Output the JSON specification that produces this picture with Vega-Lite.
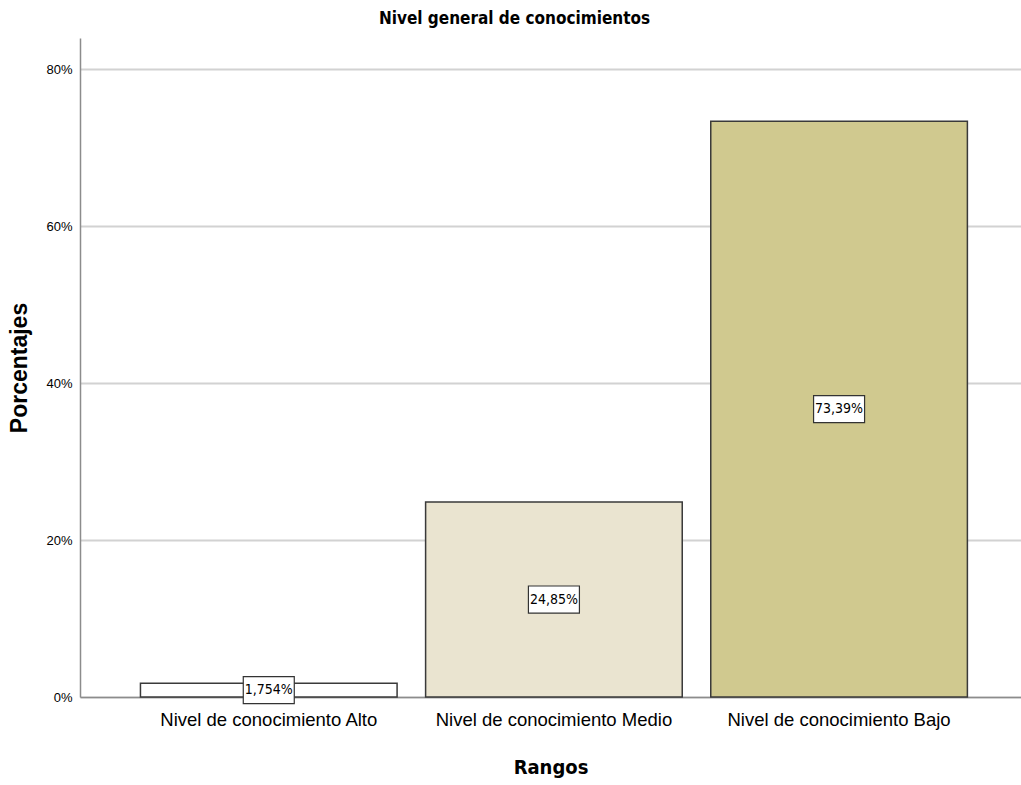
{
  "$schema": "https://vega.github.io/schema/vega-lite/v6.json",
  "width": 941,
  "height": 659,
  "autosize": {"type": "none"},
  "padding": {"left": 80, "top": 38, "right": 0, "bottom": 88},
  "background": "white",
  "title": {
    "text": "Nivel general de conocimientos",
    "font": "DejaVu Sans Condensed, sans-serif",
    "fontSize": 17,
    "fontWeight": "bold",
    "color": "#000000",
    "anchor": "middle",
    "dx": -36,
    "offset": 10
  },
  "data": {
    "values": [
      {"rango": "Nivel de conocimiento Alto", "pct": 1.754, "label": "1,754%"},
      {"rango": "Nivel de conocimiento Medio", "pct": 24.85, "label": "24,85%"},
      {"rango": "Nivel de conocimiento Bajo", "pct": 73.39, "label": "73,39%"}
    ]
  },
  "config": {
    "view": {"stroke": null},
    "font": "DejaVu Sans Condensed, sans-serif"
  },
  "resolve": {"scale": {"y": "independent"}},
  "layer": [
    {
      "mark": {"type": "bar", "stroke": "#3a3a3a", "strokeWidth": 1.5},
      "encoding": {
        "x": {
          "field": "rango",
          "type": "nominal",
          "sort": null,
          "scale": {"paddingInner": 0.1, "paddingOuter": 0.2, "align": 0.53},
          "axis": {
            "title": "Rangos",
            "titleFont": "DejaVu Sans Condensed, sans-serif",
            "titleFontSize": 20,
            "titleFontWeight": "bold",
            "titleColor": "#000000",
            "titleBaseline": "alphabetic",
            "titleY": 76,
            "labelAngle": 0,
            "labelFont": "Liberation Sans, Arial, sans-serif",
            "labelFontSize": 18.5,
            "labelLimit": 0,
            "labelColor": "#000000",
            "labelPadding": 13,
            "ticks": false,
            "domainColor": "#8c8c8c",
            "domainWidth": 1.5,
            "grid": false
          }
        },
        "y": {
          "field": "pct",
          "type": "quantitative",
          "scale": {"domain": [0, 84], "nice": false},
          "axis": {
            "title": "Porcentajes",
            "titleFont": "Liberation Sans, Arial, sans-serif",
            "titleFontSize": 23,
            "titleFontWeight": "bold",
            "titleColor": "#000000",
            "titleX": -49,
            "values": [0, 20, 40, 60, 80],
            "labelExpr": "datum.value + '%'",
            "labelFont": "Liberation Sans, Arial, sans-serif",
            "labelFontSize": 13,
            "labelColor": "#000000",
            "labelPadding": 8,
            "ticks": false,
            "domainColor": "#8c8c8c",
            "domainWidth": 1.5,
            "grid": true,
            "gridColor": "#d2d2d2",
            "gridWidth": 2
          }
        },
        "color": {
          "field": "rango",
          "type": "nominal",
          "sort": null,
          "scale": {
            "domain": ["Nivel de conocimiento Alto", "Nivel de conocimiento Medio", "Nivel de conocimiento Bajo"],
            "range": ["#ffffff", "#eae4d0", "#d0c98f"]
          },
          "legend": null
        }
      }
    },
    {
      "mark": {
        "type": "point",
        "shape": "M-1,-0.53H1V0.53H-1Z",
        "filled": true,
        "fill": "#ffffff",
        "stroke": "#333333",
        "strokeWidth": 1.2,
        "opacity": 1,
        "size": 2601
      },
      "encoding": {
        "x": {"field": "rango", "type": "nominal", "sort": null},
        "y": {
          "field": "pct",
          "type": "quantitative",
          "scale": {"domain": [0, 168], "nice": false},
          "axis": null
        }
      }
    },
    {
      "mark": {
        "type": "text",
        "fontSize": 14,
        "color": "#000000",
        "align": "center",
        "baseline": "middle"
      },
      "encoding": {
        "x": {"field": "rango", "type": "nominal", "sort": null},
        "y": {
          "field": "pct",
          "type": "quantitative",
          "scale": {"domain": [0, 168], "nice": false},
          "axis": null
        },
        "text": {"field": "label"}
      }
    }
  ]
}
